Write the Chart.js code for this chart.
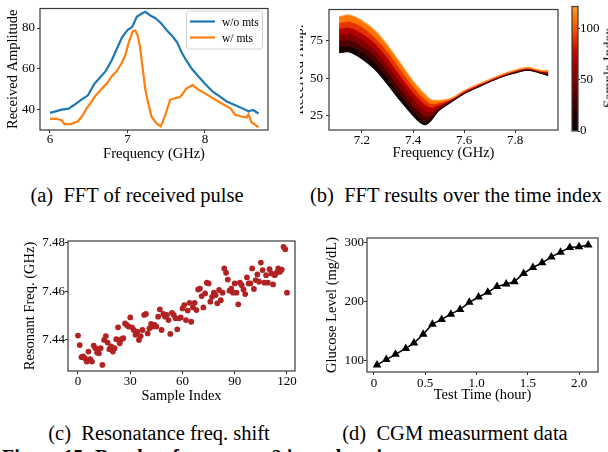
<!DOCTYPE html>
<html>
<head>
<meta charset="utf-8">
<title>Prototype 2 results</title>
<script src="https://cdn.jsdelivr.net/npm/chart.js@4.4.1/dist/chart.umd.min.js"></script>
<style>
  body { margin: 0; width: 608px; height: 452px; overflow: hidden; background: #fff; position: relative;
         font-family: "Liberation Serif", "Times New Roman", serif; color: #000; }
  .panel { position: absolute; overflow: hidden; }
  .panel canvas { position: absolute; top: 0; }
  .cap { position: absolute; font-size: 20.5px; line-height: 20px; white-space: nowrap; }
  .fig { position: absolute; left: 2px; top: 447px; font-size: 20px; line-height: 20px; font-weight: bold; white-space: nowrap; }
  .cblabel { position: absolute; left: 609px; top: 68px; font-size: 14.5px; white-space: nowrap;
             transform: translate(-50%, -50%) rotate(-90deg); }
</style>
</head>
<body>
<div class="panel" style="left:0;top:0;width:300px;height:170px"><canvas id="chartA" width="300" height="170" style="left:0;width:300px;height:170px"></canvas></div>
<div class="panel" style="left:300px;top:0;width:308px;height:170px"><canvas id="chartB" width="321" height="170" style="left:-13px;width:321px;height:170px"></canvas></div>
<div class="panel" style="left:560px;top:0;width:48px;height:170px"><canvas id="chartCb" width="48" height="170" style="left:0;width:48px;height:170px"></canvas></div>
<div class="cblabel">Sample Index</div>
<div class="panel" style="left:0;top:220px;width:300px;height:190px"><canvas id="chartC" width="300" height="190" style="left:0;width:300px;height:190px"></canvas></div>
<div class="panel" style="left:300px;top:220px;width:308px;height:190px"><canvas id="chartD" width="308" height="190" style="left:0;width:308px;height:190px"></canvas></div>

<div class="cap" style="left:137px;top:185px;transform:translateX(-50%)">(a)&nbsp; FFT of received pulse</div>
<div class="cap" style="left:310px;top:185px">(b)&nbsp; FFT results over the time index</div>
<div class="cap" style="left:159px;top:423px;transform:translateX(-50%)">(c)&nbsp; Resonatance freq. shift</div>
<div class="cap" style="left:455px;top:423px;transform:translateX(-50%)">(d)&nbsp; CGM measurment data</div>
<div class="fig">Figure 15: Results of prototype 2 in real environment</div>

<script>
// ---- (a) FFT of received pulse ----
const freqWo = [6.00, 6.06, 6.15, 6.24, 6.32, 6.41, 6.49, 6.57, 6.64, 6.72, 6.80, 6.87, 6.93, 7.00, 7.06,
                7.12, 7.18, 7.23, 7.30, 7.36, 7.43, 7.51, 7.58, 7.64, 7.70, 7.76, 7.83, 7.91, 8.00, 8.10,
                8.19, 8.28, 8.37, 8.45, 8.52, 8.56, 8.62, 8.69];
const ampWo = [38.4, 39.0, 40.0, 40.5, 42.5, 45.0, 47.0, 52.5, 55.5, 59.0, 64.5, 70.5, 75.5, 79.0, 80.5,
               85.5, 87.0, 88.0, 86.0, 84.8, 82.5, 78.8, 76.0, 73.0, 68.0, 64.0, 60.0, 56.5, 52.7, 48.8,
               46.5, 44.0, 42.5, 41.2, 40.0, 39.2, 39.8, 38.1];
const freqW = [6.00, 6.08, 6.15, 6.19, 6.28, 6.36, 6.42, 6.47, 6.52, 6.58, 6.67, 6.74, 6.80, 6.86, 6.92,
               6.97, 7.02, 7.07, 7.10, 7.13, 7.16, 7.19, 7.23, 7.26, 7.31, 7.38, 7.43, 7.48, 7.55, 7.61,
               7.68, 7.76, 7.84, 7.91, 8.02, 8.11, 8.19, 8.26, 8.33, 8.39, 8.47, 8.54, 8.56, 8.60, 8.65, 8.69];
const ampW = [35.6, 35.5, 34.8, 32.8, 33.0, 34.3, 37.0, 40.5, 43.0, 46.5, 50.3, 53.0, 56.5, 58.8, 62.5,
              66.5, 73.5, 78.6, 78.8, 76.5, 71.0, 62.0, 50.0, 44.3, 36.5, 33.0, 31.8, 36.5, 44.8, 45.6,
              46.2, 50.3, 52.0, 49.9, 47.5, 45.4, 43.6, 42.1, 40.5, 37.5, 36.6, 36.1, 37.7, 33.8, 32.5, 31.3];
const ticksAx = [6, 7, 8];
const ticksAy = [40, 60, 80];

// ---- (b) FFT results over the time index (one curve every 20 samples) ----
const freqSweep = [7.11, 7.15, 7.20, 7.25, 7.30, 7.35, 7.40, 7.43, 7.45, 7.47,
                   7.50, 7.55, 7.60, 7.65, 7.70, 7.75, 7.80, 7.85, 7.90, 7.93];
const sweepIdx = [0, 20, 40, 60, 80, 100, 120];
const amp000 = [67, 67.5, 63, 56, 46, 35, 25, 20, 18.8, 21.5, 28, 34, 39.5, 43.5, 47.5, 51, 53.5, 55.4, 53.3, 51.7];
const amp020 = [71, 71.5, 67.5, 60.5, 50.5, 39, 28.5, 23.5, 21.5, 23, 28.5, 34.5, 40, 44, 47.8, 51.2, 53.8, 55.6, 53.6, 52.2];
const amp040 = [75, 75.5, 71.5, 65, 55, 43, 32, 27, 24.5, 25, 29.5, 35, 40.3, 44.3, 48, 51.5, 54.2, 56, 54, 52.8];
const amp060 = [79, 80, 76, 69, 59, 47.5, 36.5, 31, 28, 27.5, 30.5, 35.3, 40.5, 44.5, 48.2, 51.7, 54.4, 56.2, 54.3, 53.3];
const amp080 = [83, 84, 80, 73.5, 63.5, 51.5, 40.5, 35, 32, 30.5, 32, 35.7, 40.8, 44.8, 48.5, 52, 54.8, 56.5, 54.6, 54];
const amp100 = [87, 88, 84.5, 77.5, 68, 56, 44.5, 38.5, 35.5, 33, 33.5, 36, 41.2, 45.2, 48.8, 52.3, 55, 56.8, 54.9, 54.5];
const amp120 = [91, 92.3, 88.5, 82, 72, 60, 48, 42, 38.5, 35.5, 35, 36.5, 41.5, 45.5, 49, 52.5, 55.3, 57, 55.2, 55];
const sweepCurves = [amp000, amp020, amp040, amp060, amp080, amp100, amp120];
const ticksBx = [7.2, 7.4, 7.6, 7.8];
const ticksBy = [25, 50, 75];
const ticksCb = [0, 50, 100];
const cbMax = 121;

// ---- (c) Resonant frequency shift ----
const resFreq = [
  7.4418, 7.4379, 7.4329, 7.4332, 7.4325, 7.4311, 7.4352, 7.4321, 7.4311, 7.4377,
  7.4366, 7.4348, 7.4345, 7.4366, 7.4297, 7.4400, 7.4416, 7.4389, 7.4362, 7.4373,
  7.4352, 7.4366, 7.4403, 7.4452, 7.4386, 7.4403, 7.4407, 7.4468, 7.4462, 7.4455,
  7.4493, 7.4452, 7.4441, 7.4421, 7.4434, 7.4400, 7.4416, 7.4441, 7.4503, 7.4507,
  7.4427, 7.4448, 7.4466, 7.4455, 7.4462, 7.4455, 7.4496, 7.4526, 7.4441, 7.4507,
  7.4496, 7.4503, 7.4482, 7.4425, 7.4512, 7.4503, 7.4489, 7.4444, 7.4489, 7.4493,
  7.4530, 7.4544, 7.4482, 7.4521, 7.4553, 7.4475, 7.4534, 7.4553, 7.4523, 7.4608,
  7.4612, 7.4581, 7.4534, 7.4592, 7.4636, 7.4633, 7.4558, 7.4578, 7.4595, 7.4585,
  7.4551, 7.4606, 7.4564, 7.4595, 7.4695, 7.4677, 7.4649, 7.4603, 7.4612, 7.4595,
  7.4633, 7.4595, 7.4547, 7.4636, 7.4626, 7.4608, 7.4589, 7.4658, 7.4633, 7.4633,
  7.4695, 7.4610, 7.4647, 7.4670, 7.4640, 7.4719, 7.4688, 7.4636, 7.4667, 7.4636,
  7.4692, 7.4674, 7.4629, 7.4667, 7.4677, 7.4695, 7.4681, 7.4690, 7.4784, 7.4774,
  7.4595];
const sampleIdx = resFreq.map((_, i) => i);
const ticksCx = [0, 30, 60, 90, 120];
const ticksCy = [7.44, 7.46, 7.48];

// ---- (d) CGM measurement data ----
const testTime = [0.03, 0.12, 0.21, 0.31, 0.39, 0.48, 0.57, 0.66, 0.75, 0.84, 0.93, 1.02,
                  1.11, 1.20, 1.29, 1.37, 1.46, 1.55, 1.64, 1.73, 1.82, 1.91, 2.00, 2.09];
const glucose = [93, 102, 111, 121, 130, 145, 162, 170, 179, 187, 199, 208,
                 216, 226, 230, 234, 248, 258, 266, 276, 284, 292, 293, 296];
const ticksDx = [0, 0.5, 1.0, 1.5, 2.0];
const ticksDy = [100, 200, 300];

// ---- shared setup ----
Chart.defaults.font.family = "'Liberation Serif', 'Times New Roman', serif";
Chart.defaults.color = '#000';
Chart.defaults.animation = false;
Chart.defaults.events = [];
Chart.defaults.plugins.legend.display = false;
Chart.defaults.plugins.tooltip.enabled = false;

const pts = (xs, ys) => xs.map((x, i) => ({x: x, y: ys[i]}));

// gist_heat style colour, stopped at orange for index 120
function heat(k) {
  const t = 0.8 * Math.max(0, k) / 120;
  const r = Math.min(1, 1.5 * t), g = Math.max(0, Math.min(1, 2 * t - 1)), b = Math.max(0, 4 * t - 3);
  return 'rgb(' + Math.round(r * 255) + ',' + Math.round(g * 255) + ',' + Math.round(b * 255) + ')';
}

function axis(o) {
  return {
    type: 'linear', position: o.pos, min: o.min, max: o.max,
    afterBuildTicks: s => { s.ticks = o.ticks.map(v => ({value: v})); },
    afterFit: s => { if (o.pos === 'bottom') s.height = o.size; else s.width = o.size; },
    grid: {drawOnChartArea: false, drawTicks: true, tickLength: 3, tickColor: '#333', tickWidth: 1},
    border: {display: false},
    ticks: {font: {size: 13, lineHeight: 1}, color: '#000', padding: o.pad, maxRotation: 0, autoSkip: false,
            callback: o.fmt || (v => String(v))},
    title: {display: !!o.title, text: o.title, font: {size: 14.5}, color: '#000', padding: o.tpad}
  };
}

// full box round the plot, like matplotlib spines
const frame = {
  id: 'frame',
  afterDatasetsDraw(c) {
    const a = c.chartArea, x = c.ctx;
    x.save();
    x.strokeStyle = '#3a3a3a';
    x.lineWidth = 1.2;
    x.strokeRect(a.left, a.top, a.right - a.left, a.bottom - a.top);
    x.restore();
  }
};

const legendA = {
  id: 'legendA',
  afterDraw(c) {
    const x = c.ctx, a = c.chartArea;
    const bx = a.right - 82, by = a.top + 2, bw = 76, bh = 38;
    x.save();
    x.fillStyle = 'rgba(255,255,255,0.85)';
    x.strokeStyle = '#d0d0d0';
    x.lineWidth = 1;
    x.beginPath();
    x.roundRect(bx + 0.5, by + 0.5, bw, bh, 3);
    x.fill();
    x.stroke();
    x.font = "11.5px 'Liberation Serif'";
    x.textBaseline = 'middle';
    c.data.datasets.forEach((d, i) => {
      const y = by + 11 + i * 16;
      x.strokeStyle = d.borderColor;
      x.lineWidth = 2.2;
      x.beginPath();
      x.moveTo(bx + 4, y);
      x.lineTo(bx + 29, y);
      x.stroke();
      x.fillStyle = '#000';
      x.fillText(d.label, bx + 36, y + 1);
    });
    x.restore();
  }
};

// (a)
new Chart(document.getElementById('chartA'), {
  type: 'line',
  data: {
    datasets: [
      {label: 'w/o mts', data: pts(freqWo, ampWo), borderColor: '#1f77b4', borderWidth: 2.2, pointRadius: 0, tension: 0},
      {label: 'w/ mts', data: pts(freqW, ampW), borderColor: '#ff7f0e', borderWidth: 2.2, pointRadius: 0, tension: 0}
    ]
  },
  options: {
    responsive: false,
    layout: {padding: {left: 0, top: 4, right: 32, bottom: 0}},
    scales: {
      x: axis({pos: 'bottom', min: 5.871, max: 8.813, ticks: ticksAx, size: 40, pad: 0,
               title: 'Frequency (GHz)', tpad: {top: 0, bottom: 7}}),
      y: axis({pos: 'left', min: 30.0, max: 89.6, ticks: ticksAy, size: 40, pad: 2,
               title: 'Received Amplitude', tpad: {top: 4, bottom: 0}})
    }
  },
  plugins: [frame, legendA]
});

// (b)
new Chart(document.getElementById('chartB'), {
  type: 'line',
  data: {
    datasets: sweepCurves.map((ys, i) => ({
      data: pts(freqSweep, ys),
      borderColor: heat(sweepIdx[i]),
      backgroundColor: heat(sweepIdx[i] - 10),
      borderWidth: 1.2,
      pointRadius: 0,
      tension: 0.35,
      fill: i === 0 ? false : '-1',
      order: sweepIdx.length - i
    }))
  },
  options: {
    responsive: false,
    layout: {padding: {left: 0, top: 5, right: 50, bottom: 0}},
    scales: {
      x: axis({pos: 'bottom', min: 7.0706, max: 7.9686, ticks: ticksBx, size: 40, pad: 1,
               fmt: v => v.toFixed(1), title: 'Frequency (GHz)', tpad: {top: 0, bottom: 8}}),
      y: axis({pos: 'left', min: 15.2, max: 96, ticks: ticksBy, size: 42, pad: 3,
               title: 'Received Amp.', tpad: {top: 3, bottom: 0}})
    }
  },
  plugins: [frame]
});

// colour bar for (b)
new Chart(document.getElementById('chartCb'), {
  type: 'bar',
  data: {
    labels: [''],
    datasets: [{
      data: [cbMax],
      barPercentage: 1,
      categoryPercentage: 1,
      borderWidth: 0,
      backgroundColor: ctx => {
        const a = ctx.chart.chartArea;
        if (!a) return heat(60);
        const g = ctx.chart.ctx.createLinearGradient(0, a.bottom, 0, a.top);
        for (let k = 0; k <= 120; k += 10) g.addColorStop(k / cbMax, heat(k));
        g.addColorStop(1, heat(120));
        return g;
      }
    }]
  },
  options: {
    responsive: false,
    layout: {padding: {left: 12, top: 5, right: 0, bottom: 39}},
    scales: {
      x: {display: false},
      y: Object.assign(axis({pos: 'right', min: 0, max: cbMax, ticks: ticksCb, size: 30, pad: 0}),
                       {grid: {drawOnChartArea: false, drawTicks: true, tickLength: 2, tickColor: '#333'}})
    }
  },
  plugins: [frame]
});

// (c)
new Chart(document.getElementById('chartC'), {
  type: 'scatter',
  data: {
    datasets: [{data: pts(sampleIdx, resFreq), backgroundColor: '#b22222', borderWidth: 0, pointRadius: 2.9}]
  },
  options: {
    responsive: false,
    layout: {padding: {left: 17, top: 21, right: 5, bottom: 0}},
    scales: {
      x: axis({pos: 'bottom', min: -5.74, max: 124.6, ticks: ticksCx, size: 39, pad: 1,
               title: 'Sample Index', tpad: {top: 0, bottom: 5}}),
      y: axis({pos: 'left', min: 7.4272, max: 7.4808, ticks: ticksCy, size: 51, pad: 0,
               fmt: v => v.toFixed(2), title: 'Resonant Freq. (GHz)', tpad: {top: 4, bottom: 0}})
    }
  },
  plugins: [frame]
});

// (d)
new Chart(document.getElementById('chartD'), {
  type: 'line',
  data: {
    datasets: [{
      data: pts(testTime, glucose),
      borderColor: '#000', borderWidth: 1.5, tension: 0,
      pointStyle: 'triangle', pointRadius: 5,
      pointBackgroundColor: '#000', pointBorderColor: '#000', pointBorderWidth: 0
    }]
  },
  options: {
    responsive: false,
    layout: {padding: {left: 19, top: 18, right: 10, bottom: 0}},
    scales: {
      x: axis({pos: 'bottom', min: -0.068, max: 2.185, ticks: ticksDx, size: 38, pad: 2,
               fmt: v => (v === 0 ? '0' : v.toFixed(1)), title: 'Test Time (hour)', tpad: {top: 0, bottom: 6}}),
      y: axis({pos: 'left', min: 81, max: 308, ticks: ticksDy, size: 48, pad: 0,
               title: 'Glucose Level (mg/dL)', tpad: {top: 4, bottom: 0}})
    }
  },
  plugins: [frame]
});
</script>
</body>
</html>
